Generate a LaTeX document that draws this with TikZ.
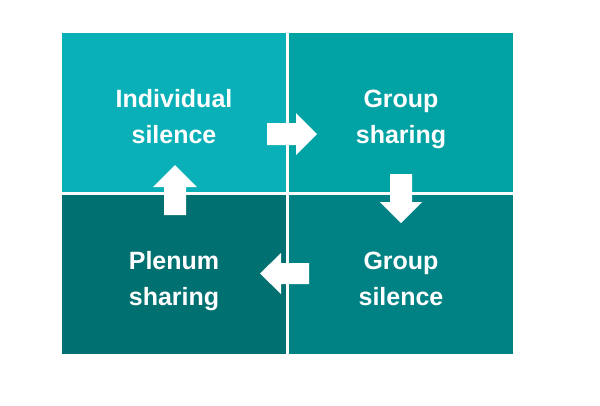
\documentclass[tikz,border=0pt]{standalone}
\usepackage{fontspec}
\setmainfont{Liberation Sans}
\definecolor{cTL}{RGB}{10,176,184}
\definecolor{cTR}{RGB}{0,162,164}
\definecolor{cBR}{RGB}{0,130,132}
\definecolor{cBL}{RGB}{0,112,112}
\tikzset{
  quad/.style={draw=none,inner sep=0pt,minimum width=224pt,minimum height=159pt,anchor=north west},
  lbl/.style={text=white,font=\fontsize{25pt}{36pt}\selectfont\bfseries,align=center,inner sep=0pt},
  blockarrow/.style={fill=white,draw=none}
}
\begin{document}
\begin{tikzpicture}[x=1pt,y=-1pt]
\useasboundingbox[fill=white] (0,0) rectangle (600,405);
\node[quad,fill=cTL] (tl) at (62,33) {};
\node[quad,fill=cTR] (tr) at (289,33) {};
\node[quad,fill=cBL] (bl) at (62,195) {};
\node[quad,fill=cBR] (br) at (289,195) {};
\node[lbl,anchor=base] (tltext) at (174,143) {Individual\\silence};
\node[lbl,anchor=base] (trtext) at (401,143) {Group\\sharing};
\node[lbl,anchor=base] (bltext) at (174,305) {Plenum\\sharing};
\node[lbl,anchor=base] (brtext) at (401,305) {Group\\silence};
% right arrow (tl -> tr)
\coordinate (ar) at (267,134);
\fill[blockarrow] (ar) ++(0,-11) -- ++(29,0) -- ++(0,-10) -- ++(21,21) -- ++(-21,21) -- ++(0,-10) -- ++(-29,0) -- cycle;
% down arrow (tr -> br)
\coordinate (ad) at (401,174);
\fill[blockarrow] (ad) ++(-11,0) -- ++(0,28) -- ++(-10,0) -- ++(21,21) -- ++(21,-21) -- ++(-10,0) -- ++(0,-28) -- cycle;
% left arrow (br -> bl)
\coordinate (al) at (309,273.5);
\fill[blockarrow] (al) ++(0,-10.5) -- ++(-28,0) -- ++(0,-10) -- ++(-21,20.5) -- ++(21,20.5) -- ++(0,-10) -- ++(28,0) -- cycle;
% up arrow (bl -> tl)
\coordinate (au) at (175,215);
\fill[blockarrow] (au) ++(-11,0) -- ++(0,-28) -- ++(-11,0) -- ++(22,-22) -- ++(22,22) -- ++(-11,0) -- ++(0,28) -- cycle;
\end{tikzpicture}
\end{document}
